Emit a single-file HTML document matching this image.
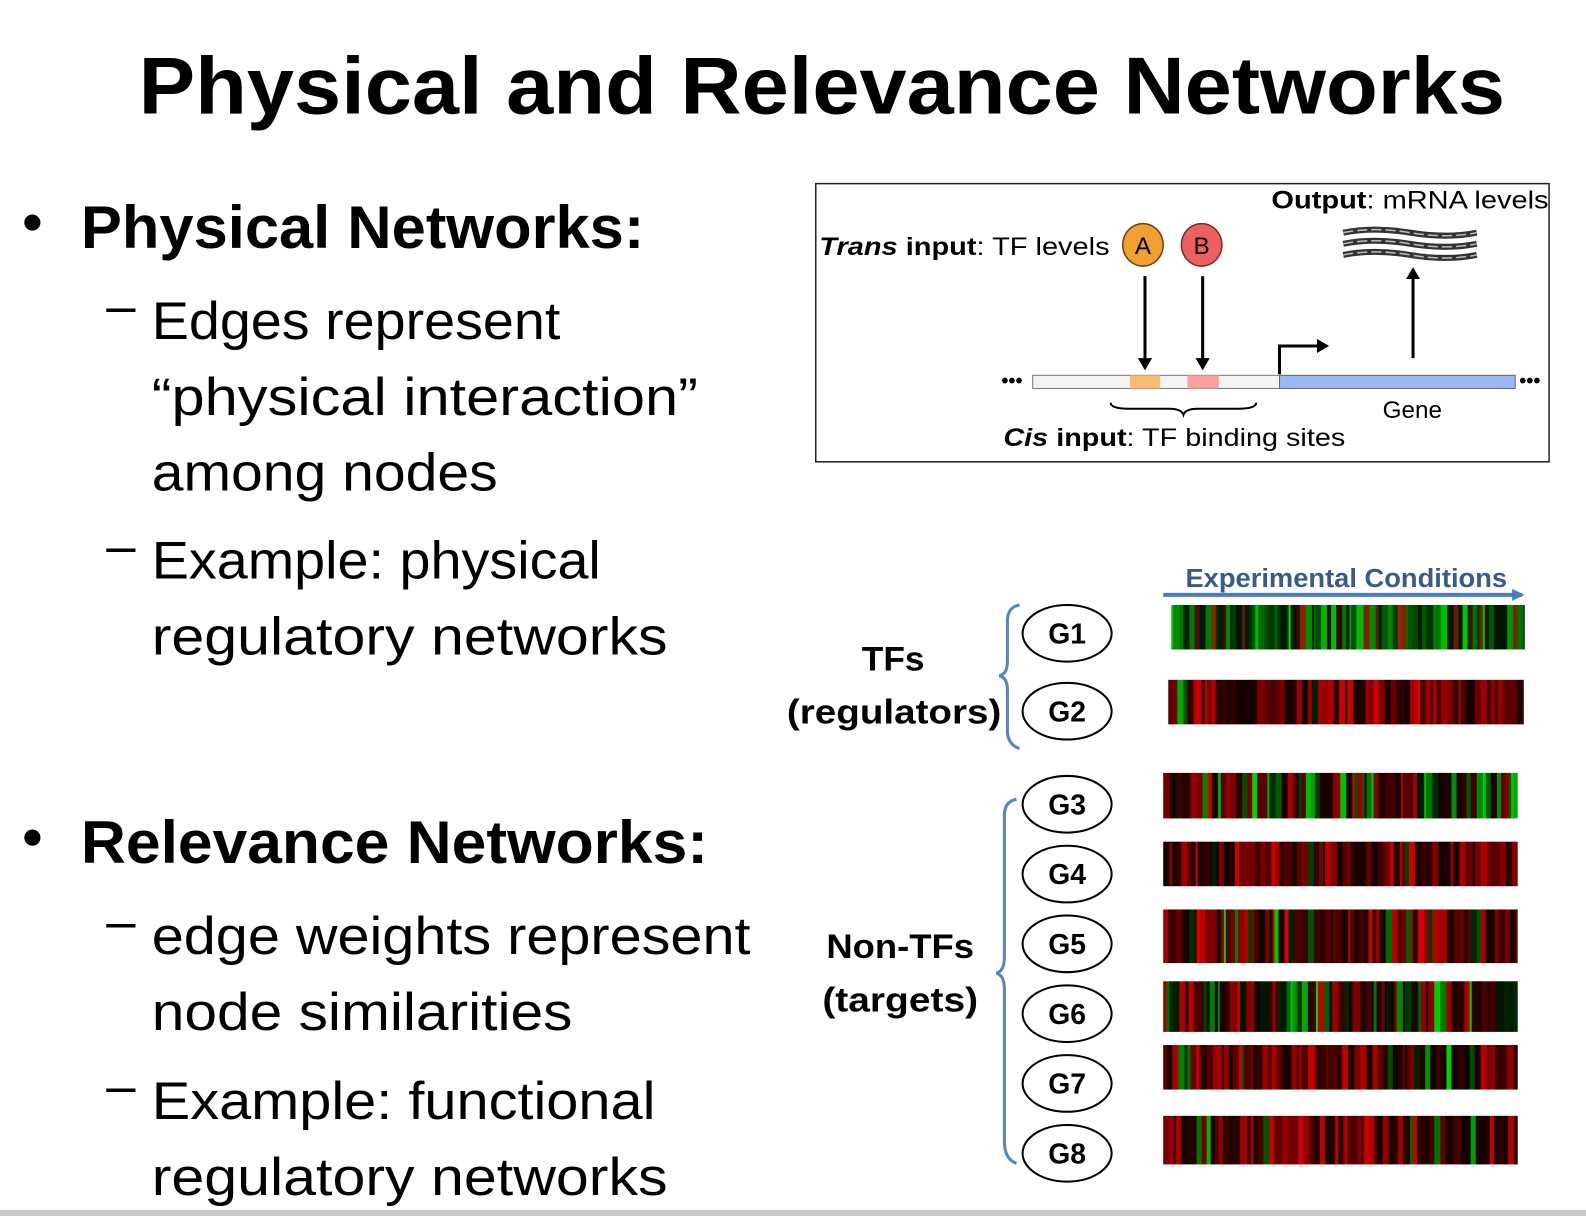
<!DOCTYPE html>
<html><head><meta charset="utf-8"><style>
html,body{margin:0;padding:0;background:#fff;}
svg{display:block;}
text{font-family:"Liberation Sans",sans-serif;}
</style></head><body>
<svg id="s" width="1586" height="1216" viewBox="0 0 1568 1202" preserveAspectRatio="none" xmlns="http://www.w3.org/2000/svg">
<defs><marker id="ah" markerWidth="12" markerHeight="14" refX="10" refY="7" orient="auto" markerUnits="userSpaceOnUse"><path d="M0,0 L12,7 L0,14 z" fill="#000"/></marker>
<marker id="bh" markerWidth="12" markerHeight="12" refX="10" refY="6" orient="auto" markerUnits="userSpaceOnUse"><path d="M0,0 L12,6 L0,12 z" fill="#4a7cc0"/></marker></defs>
<rect x="0" y="1196" width="1568" height="10" fill="#c8c8c8"/>
<text x="137" y="112" font-size="80" font-weight="bold" textLength="1351" lengthAdjust="spacingAndGlyphs">Physical and Relevance Networks</text>
<circle cx="32" cy="220" r="8" fill="#000"/>
<text x="80" y="245" font-size="60" font-weight="bold" textLength="557" lengthAdjust="spacingAndGlyphs">Physical Networks:</text>
<g font-size="52">
<text x="105" y="320">–</text>
<text x="150" y="335" textLength="404" lengthAdjust="spacingAndGlyphs">Edges represent</text>
<text x="150" y="410" textLength="540" lengthAdjust="spacingAndGlyphs">“physical interaction”</text>
<text x="150" y="485" textLength="342" lengthAdjust="spacingAndGlyphs">among nodes</text>
<text x="105" y="557">–</text>
<text x="150" y="572" textLength="444" lengthAdjust="spacingAndGlyphs">Example: physical</text>
<text x="150" y="647" textLength="510" lengthAdjust="spacingAndGlyphs">regulatory networks</text>
</g>
<circle cx="32" cy="828" r="8" fill="#000"/>
<text x="80" y="853" font-size="60" font-weight="bold" textLength="620" lengthAdjust="spacingAndGlyphs">Relevance Networks:</text>
<g font-size="52">
<text x="105" y="928">–</text>
<text x="150" y="943" textLength="592" lengthAdjust="spacingAndGlyphs">edge weights represent</text>
<text x="150" y="1018" textLength="416" lengthAdjust="spacingAndGlyphs">node similarities</text>
<text x="105" y="1091">–</text>
<text x="150" y="1106" textLength="498" lengthAdjust="spacingAndGlyphs">Example: functional</text>
<text x="150" y="1181" textLength="510" lengthAdjust="spacingAndGlyphs">regulatory networks</text>
</g>
<!-- top diagram -->
<rect x="806.5" y="181.5" width="725" height="275" fill="#fff" stroke="#222" stroke-width="1.5"/>
<text x="1257" y="206" font-size="25" textLength="274" lengthAdjust="spacingAndGlyphs"><tspan font-weight="bold">Output</tspan>: mRNA levels</text>
<text x="810" y="252" font-size="25" textLength="287" lengthAdjust="spacingAndGlyphs"><tspan font-weight="bold" font-style="italic">Trans</tspan> <tspan font-weight="bold">input</tspan>: TF levels</text>
<ellipse cx="1130" cy="242" rx="20" ry="21" fill="#f0a030" stroke="#6a4010" stroke-width="1.5"/>
<text x="1130" y="251" font-size="24" text-anchor="middle">A</text>
<ellipse cx="1188" cy="242" rx="20" ry="21" fill="#ee6060" stroke="#7a2a2a" stroke-width="1.5"/>
<text x="1188" y="251" font-size="24" text-anchor="middle">B</text>
<g stroke="#000" stroke-width="3" fill="none">
<line x1="1132" y1="273" x2="1132" y2="364" marker-end="url(#ah)"/>
<line x1="1189" y1="273" x2="1189" y2="364" marker-end="url(#ah)"/>
<line x1="1397" y1="354" x2="1397" y2="266" marker-end="url(#ah)"/>
<path d="M1265,370 V342 H1312" marker-end="url(#ah)"/>
</g>
<g fill="none" stroke="#333" stroke-width="6">
<path d="M1328,230 q30,-6 66,0 t66,0"/><path d="M1328,241 q30,-6 66,0 t66,0"/><path d="M1328,252 q30,-6 66,0 t66,0"/>
</g>
<g fill="none" stroke="#bbb" stroke-width="1.5" stroke-dasharray="10 4">
<path d="M1328,230 q30,-6 66,0 t66,0"/><path d="M1328,241 q30,-6 66,0 t66,0"/><path d="M1328,252 q30,-6 66,0 t66,0"/>
</g>
<text x="990" y="383" font-size="20" font-weight="bold">•••</text>
<text x="1502" y="383" font-size="20" font-weight="bold">•••</text>
<rect x="1021" y="371" width="244" height="13" fill="#f4f4f4" stroke="#777"/>
<rect x="1117" y="371" width="30" height="13" fill="#f8bb70"/>
<rect x="1174" y="371" width="31" height="13" fill="#f6a0a0"/>
<rect x="1265" y="371" width="233" height="13" fill="#9ab8f2" stroke="#667"/>
<path d="M1098,398 q0,6 18,6 h40 q12,0 14,6 q2,-6 14,-6 h40 q18,0 18,-6" fill="none" stroke="#000" stroke-width="2"/>
<text x="1367" y="413" font-size="24">Gene</text>
<text x="992" y="441" font-size="25" textLength="338" lengthAdjust="spacingAndGlyphs"><tspan font-weight="bold" font-style="italic">Cis</tspan> <tspan font-weight="bold">input</tspan>: TF binding sites</text>
<!-- heatmap -->
<text x="1172" y="580" font-size="26" font-weight="bold" fill="#3a5a8a" textLength="318" lengthAdjust="spacingAndGlyphs">Experimental Conditions</text>
<line x1="1150" y1="588" x2="1505" y2="588" stroke="#4a7cc0" stroke-width="4" marker-end="url(#bh)"/>
<g id="hm"></g>
<g font-size="34" font-weight="bold" text-anchor="middle">
<text x="883" y="663" textLength="62" lengthAdjust="spacingAndGlyphs">TFs</text>
<text x="884" y="715" textLength="212" lengthAdjust="spacingAndGlyphs">(regulators)</text>
<text x="890" y="947" textLength="146" lengthAdjust="spacingAndGlyphs">Non-TFs</text>
<text x="890" y="1000" textLength="154" lengthAdjust="spacingAndGlyphs">(targets)</text>
</g>
<g fill="none" stroke="#5a85bb" stroke-width="3">
<path d="M1008,598 q-12,2 -12,16 v40 q0,12 -8,14 q8,2 8,14 v40 q0,14 12,18"/>
<path d="M1005,790 q-12,2 -12,16 v140 q0,14 -8,16 q8,2 8,16 v150 q0,18 12,22"/>
</g>
<g id="nodes" font-size="28" font-weight="bold" text-anchor="middle"></g>
</svg>
<script>
var ns="http://www.w3.org/2000/svg";
var rows=[[1158,598,349,44,'g'],[1155,672,351,44,'r'],[1150,764,350,45,'m'],[1150,832,350,44,'r'],[1150,899,350,53,'r'],[1150,970,350,50,'m'],[1150,1033,350,44,'r'],[1150,1103,350,48,'r']];
var seed=7;function rnd(){seed=(seed*16807)%2147483647;return seed/2147483647;}
var hm=document.getElementById('hm');
rows.forEach(function(r){
 var x=r[0];while(x<r[0]+r[2]){var w=2+Math.floor(rnd()*5);if(x+w>r[0]+r[2])w=r[0]+r[2]-x;
 var v=Math.pow(rnd(),1.8),c;var k=rnd();
 if(r[4]=='g'){c=k<0.88?'rgb(0,'+Math.floor(20+v*200)+',0)':'rgb('+Math.floor(40+v*120)+','+Math.floor(10+v*30)+',0)';}
 else if(r[4]=='r'){c=k<0.9?'rgb('+Math.floor(20+v*200)+',0,0)':'rgb(0,'+Math.floor(30+v*190)+',0)';}
 else{c=k<0.6?'rgb('+Math.floor(20+v*200)+',0,0)':'rgb(0,'+Math.floor(20+v*200)+',0)';}
 var e=document.createElementNS(ns,'rect');e.setAttribute('x',x);e.setAttribute('y',r[1]);e.setAttribute('width',w+0.5);e.setAttribute('height',r[3]);e.setAttribute('fill',c);hm.appendChild(e);x+=w;}
});
var nd=document.getElementById('nodes');
[626,703,795,864,933,1002,1071,1140].forEach(function(cy,i){
 var e=document.createElementNS(ns,'ellipse');e.setAttribute('cx',1055);e.setAttribute('cy',cy);e.setAttribute('rx',44);e.setAttribute('ry',28);e.setAttribute('fill','#fff');e.setAttribute('stroke','#000');e.setAttribute('stroke-width','2');nd.appendChild(e);
 var t=document.createElementNS(ns,'text');t.setAttribute('x',1055);t.setAttribute('y',cy+10);t.textContent='G'+(i+1);nd.appendChild(t);
});
</script>
</body></html>
